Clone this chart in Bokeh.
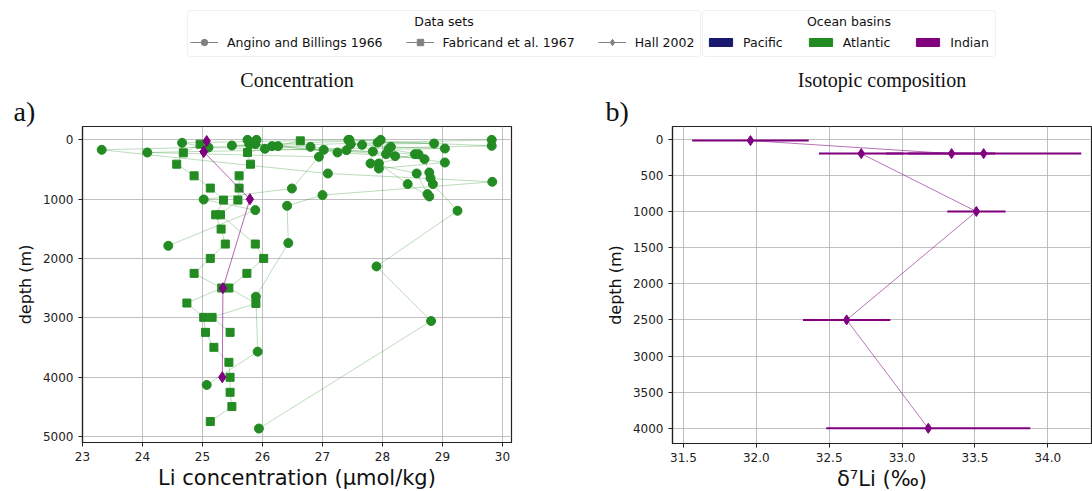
from bokeh.plotting import figure
from bokeh.models import (Range1d, FixedTicker, PrintfTickFormatter, Legend, LegendItem,
                          BoxAnnotation, Label, Title)
from bokeh.layouts import column, row
from bokeh.embed import file_html
from bokeh.resources import INLINE

GREEN = "#228b22"
PURPLE = "#800080"
NAVY = "#191970"
INK = "#222222"

# ---------------- data ----------------
# Angino and Billings 1966 (Atlantic) - one list per station profile
ab1_li = [29.82, 23.32, 27.09, 29.83, 27.00, 26.41, 26.43, 25.89, 25.92, 25.07]
ab1_depth = [0, 168, 567, 707, 931, 1111, 1739, 2643, 3569, 4130]
ab2_li = [27.45, 29.82, 24.08, 26.94, 26.49, 25.02, 25.88, 24.43]
ab2_depth = [0, 101, 213, 286, 820, 1005, 1184, 1785]
ab3_li = [25.90, 25.88, 26.26, 27.25, 28.21, 28.70, 28.78, 28.80, 28.84, 29.25, 27.90, 28.81, 25.94]
ab3_depth = [0, 73, 106, 213, 275, 325, 550, 645, 746, 1195, 2133, 3053, 4865]
ab4_li = [27.43, 24.66, 25.10, 26.04, 27.84, 27.80, 28.57, 28.75]
ab4_depth = [0, 50, 129, 151, 196, 398, 567, 914]
ab5_li = [27.97, 25.49, 26.80, 27.40, 28.54, 27.94, 28.42, 28.78]
ab5_depth = [0, 95, 118, 174, 241, 398, 746, 954]
ab6_li = [25.75, 25.78, 26.16, 27.02, 28.06, 29.04, 27.94]
ab6_depth = [0, 73, 106, 168, 241, 382, 483]
ab7_li = [27.92, 28.86, 27.47, 27.66, 28.14, 29.04, 28.10, 28.60]
ab7_depth = [45, 62, 73, 84, 118, 146, 157, 241]

# Fabricand et al. 1967 (Atlantic)
fb1_li = [24.96, 24.68, 24.57, 24.86, 25.13, 25.35, 25.22, 25.31, 25.38, 25.13, 24.86,
          25.32, 24.74, 25.02, 25.05, 25.19, 25.44, 25.46, 25.46, 25.49, 25.13]
fb1_depth = [73, 219, 410, 606, 813, 1015, 1263, 1504, 1756, 1998, 2250,
             2497, 2750, 2991, 3244, 3496, 3749, 4001, 4254, 4495, 4747]
fb2_li = [26.63, 25.75, 25.80, 25.61, 25.61, 25.59, 25.30, 25.88, 26.02, 25.74, 25.44,
          25.89, 25.16, 25.46]
fb2_depth = [17, 213, 410, 606, 813, 1015, 1263, 1756, 1998, 2250, 2497,
             2756, 2991, 3244]

# Hall 2002 (Indian)
hall_depth = [20, 200, 200, 200, 1000, 2500, 4000]
hall_li = [25.07, 25.02, 25.02, 25.02, 25.79, 25.34, 25.33]
hall_d7li = [31.96, 33.34, 33.56, 32.72, 33.51, 32.62, 33.18]
hall_err = [0.40, 0.30, 0.67, 0.29, 0.20, 0.30, 0.70]

ab_sets = [(ab1_li, ab1_depth), (ab2_li, ab2_depth), (ab3_li, ab3_depth), (ab4_li, ab4_depth),
           (ab5_li, ab5_depth), (ab6_li, ab6_depth), (ab7_li, ab7_depth)]
fb_sets = [(fb1_li, fb1_depth), (fb2_li, fb2_depth)]

x1_ticks = [23, 24, 25, 26, 27, 28, 29, 30]
y1_ticks = [0, 1000, 2000, 3000, 4000, 5000]
x2_ticks = [31.5, 32.0, 32.5, 33.0, 33.5, 34.0]
y2_ticks = [0, 500, 1000, 1500, 2000, 2500, 3000, 3500, 4000]


def style(p, xlabel, ylabel, xticks, yticks):
    p.xaxis.axis_label = xlabel
    p.yaxis.axis_label = ylabel
    p.xaxis.ticker = FixedTicker(ticks=xticks)
    p.yaxis.ticker = FixedTicker(ticks=yticks)
    for ax in (p.xaxis[0], p.yaxis[0]):
        ax.axis_label_text_font = "DejaVu Sans"
        ax.axis_label_text_font_style = "normal"
        ax.axis_label_text_color = "#111111"
        ax.major_label_text_font = "DejaVu Sans"
        ax.major_label_text_font_size = "12px"
        ax.major_label_text_color = INK
        ax.axis_line_color = INK
        ax.axis_line_width = 1.2
        ax.major_tick_line_color = INK
        ax.major_tick_out = 4
        ax.major_tick_in = 0
        ax.minor_tick_line_color = None
    p.xaxis.axis_label_text_font_size = "21px"
    p.xaxis.axis_label_standoff = 2
    p.yaxis.axis_label_text_font_size = "16px"
    p.grid.grid_line_color = "#b0b0b0"
    p.grid.grid_line_alpha = 0.8
    p.outline_line_color = INK
    p.outline_line_width = 1.2


def titles(p, main, tag, off):
    p.add_layout(Title(text=tag, align="left", offset=off, standoff=0,
                       text_font="Liberation Serif",
                       text_font_size="28px", text_font_style="normal", text_color="#111111"),
                 "above")
    p.title.text = main
    p.title.align = "center"
    p.title.standoff = 6
    p.title.text_font = "Liberation Serif"
    p.title.text_font_size = "20px"
    p.title.text_font_style = "normal"
    p.title.text_color = "#111111"


# ---------------- panel a ----------------
p1 = figure(frame_width=429, frame_height=316, min_border_left=82, min_border_right=34,
            min_border_top=66, min_border_bottom=49,
            x_range=Range1d(23, 30.15), y_range=Range1d(5100, -225),
            output_backend="svg", toolbar_location=None, title="Concentration")
style(p1, "Li concentration (μmol/kg)", "depth (m)", x1_ticks, y1_ticks)
titles(p1, "Concentration", "a)", -69)

for li, d in ab_sets + fb_sets:
    p1.line(li, d, line_color=GREEN, line_alpha=0.3, line_width=1)
for li, d in ab_sets:
    p1.scatter(li, d, marker="circle", size=9, color=GREEN)
for li, d in fb_sets:
    p1.scatter(li, d, marker="square", size=8, color=GREEN)
p1.line(hall_li, hall_depth, line_color=PURPLE, line_alpha=0.6, line_width=1)
p1.scatter(hall_li, hall_depth, marker="diamond", size=11, color=PURPLE)

# ---------------- panel b ----------------
p2 = figure(frame_width=419, frame_height=317, min_border_left=127, min_border_right=1,
            min_border_top=65, min_border_bottom=49,
            x_range=Range1d(31.425, 34.3), y_range=Range1d(4210, -175),
            output_backend="svg", toolbar_location=None, title="Isotopic composition")
style(p2, "δ⁷Li (‰)", "depth (m)", x2_ticks, y2_ticks)
p2.xaxis.formatter = PrintfTickFormatter(format="%.1f")
titles(p2, "Isotopic composition", "b)", -67)

lo = [v - e for v, e in zip(hall_d7li, hall_err)]
hi = [v + e for v, e in zip(hall_d7li, hall_err)]
p2.segment(x0=lo, x1=hi, y0=hall_depth, y1=hall_depth, line_color=PURPLE, line_width=2)
p2.line(hall_d7li, hall_depth, line_color=PURPLE, line_alpha=0.55, line_width=1)
p2.scatter(hall_d7li, hall_depth, marker="diamond", size=10, color=PURPLE)

# ---------------- legends ----------------
lf = figure(width=1092, height=60, x_range=Range1d(0, 1092), y_range=Range1d(60, 0),
            min_border=0, x_axis_location=None, y_axis_location=None,
            output_backend="svg", toolbar_location=None)
lf.grid.visible = False
lf.outline_line_color = None

for left, right in [(187, 700), (702, 995)]:
    lf.add_layout(BoxAnnotation(left=left, right=right, top=10, bottom=56,
                                fill_color="white", fill_alpha=0.8,
                                line_color="#cccccc", line_width=1, border_radius=3))
lf.add_layout(Label(x=443.5, y=21, text="Data sets", text_align="center",
                    text_baseline="middle", text_font="DejaVu Sans",
                    text_font_size="12.5px", text_color="#111111"))
lf.add_layout(Label(x=848.5, y=21, text="Ocean basins", text_align="center",
                    text_baseline="middle", text_font="DejaVu Sans",
                    text_font_size="12.5px", text_color="#111111"))

# legend-only proxy renderers, placed outside the visible range
px, py = [-50, -40], [-50, -50]
items1 = []
for name, mk in [("Angino and Billings 1966", "circle"), ("Fabricand et al. 1967", "square"),
                 ("Hall 2002", "diamond")]:
    rl = lf.line(px, py, line_color="gray", line_width=1)
    rs = lf.scatter(px, py, marker=mk, size=7, color="gray")
    items1.append(LegendItem(label=name, renderers=[rl, rs]))
items2 = []
for name, col in [("Pacific", NAVY), ("Atlantic", GREEN), ("Indian", PURPLE)]:
    rq = lf.quad(left=[-50], right=[-40], top=[-50], bottom=[-45], fill_color=col, line_color=col)
    items2.append(LegendItem(label=name, renderers=[rq]))

for items, loc, gw, gh, st, sp in [(items1, (190, 10), 28, 16, 9, 23),
                                   (items2, (706, 10), 29, 10, 8, 23)]:
    leg = Legend(items=items, location=loc, orientation="horizontal",
                 glyph_width=gw, glyph_height=gh, label_height=16, label_standoff=st,
                 spacing=sp, padding=0, margin=0,
                 label_text_font="DejaVu Sans", label_text_font_size="12.5px",
                 label_text_color="#111111", background_fill_alpha=0,
                 border_line_color=None)
    lf.add_layout(leg)

layout = column(lf, row(p1, p2))
open("out.html", "w").write(file_html(layout, INLINE))
